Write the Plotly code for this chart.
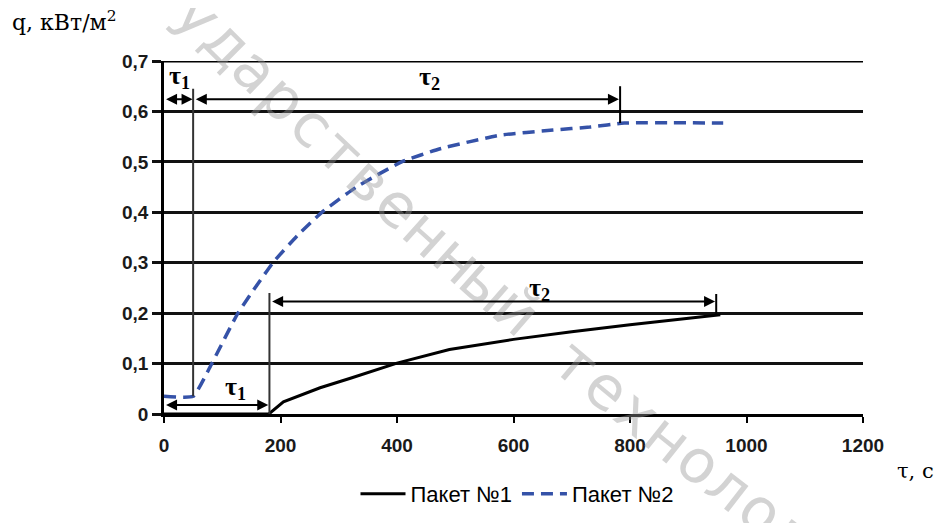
import math
import plotly.graph_objects as go

# Series data
x_p1 = [0, 180, 205, 268, 320, 400, 490, 600, 700, 800, 955]
y_p1 = [0, 0, 0.024, 0.052, 0.071, 0.101, 0.128, 0.148, 0.163, 0.177, 0.197]

x_p2 = [0, 50, 82, 127, 187, 230, 271, 330, 408, 474, 577, 668, 731, 790, 960]
y_p2 = [0.035, 0.035, 0.1, 0.2, 0.3, 0.355, 0.4, 0.45, 0.5, 0.526, 0.553, 0.563, 0.569, 0.577, 0.577]

y_ticks = [0, 0.1, 0.2, 0.3, 0.4, 0.5, 0.6, 0.7]
y_ticktext = ["0", "0,1", "0,2", "0,3", "0,4", "0,5", "0,6", "0,7"]
x_ticks = [0, 200, 400, 600, 800, 1000, 1200]
x_ticktext = ["0", "200", "400", "600", "800", "1000", "1200"]

names = ["Пакет №1", "Пакет №2"]
watermark = "ударственный технолог"

# page has an 8px body margin -> figure placed at (8, 8)
OFF = 8
W, H = 936, 515
L, R, T, B = 156, 81, 53, 109
PW, PH = W - L - R, H - T - B


def px2paper(X, Y):
    fx, fy = X - OFF, Y - OFF
    return (fx - L) / PW, 1 - (fy - T) / PH


fig = go.Figure()
fig.add_trace(go.Scatter(x=x_p1, y=y_p1, mode="lines", name=names[0],
                         line=dict(color="black", width=3)))
fig.add_trace(go.Scatter(x=x_p2, y=y_p2, mode="lines", name=names[1],
                         line=dict(color="#3552A8", width=3.5, dash="12px,7px",
                                   shape="spline", smoothing=0.4)))

tick_font = dict(family="Liberation Sans, Arial", size=19, color="#1a1a1a", weight="bold")

fig.update_layout(
    width=W, height=H,
    margin=dict(l=L, r=R, t=T, b=B, autoexpand=False),
    plot_bgcolor="white", paper_bgcolor="white",
    showlegend=True,
    legend=dict(orientation="h", xref="container", yref="container",
                x=(517 - OFF) / W, xanchor="center", y=1 - (494 - OFF) / H, yanchor="middle",
                font=dict(family="Liberation Sans, Arial", size=22, color="black"),
                itemwidth=45, bgcolor="rgba(0,0,0,0)"),
    xaxis=dict(range=[0, 1200], tickvals=x_ticks, ticktext=x_ticktext, showgrid=False,
               zeroline=False, showline=True, linecolor="black", linewidth=3,
               ticks="outside", ticklen=6, tickwidth=2, tickcolor="black",
               ticklabelstandoff=6, tickfont=tick_font, fixedrange=True),
    yaxis=dict(range=[0, 0.7], tickvals=y_ticks, ticktext=y_ticktext, showgrid=True,
               gridcolor="#111", gridwidth=2.5, zeroline=False, showline=True,
               linecolor="black", linewidth=2.5, ticks="outside", ticklen=9, tickwidth=2.5,
               tickcolor="#111", tickfont=tick_font, fixedrange=True),
)

shapes = [
    dict(type="line", xref="x", yref="y", x0=0, x1=1200, y0=0.7, y1=0.7,
         line=dict(color="black", width=3)),
    dict(type="line", xref="x", yref="y", x0=50, x1=50, y0=0.035, y1=0.645,
         line=dict(color="#333", width=2)),
    dict(type="line", xref="x", yref="y", x0=783, x1=783, y0=0.577, y1=0.65,
         line=dict(color="black", width=2)),
    dict(type="line", xref="x", yref="y", x0=181, x1=181, y0=0, y1=0.24,
         line=dict(color="#333", width=2)),
    dict(type="line", xref="x", yref="y", x0=948, x1=948, y0=0.197, y1=0.238,
         line=dict(color="black", width=2)),
]
fig.update_layout(shapes=shapes)


def darrow(x0, x1, y):
    return dict(x=x1, y=y, ax=x0, ay=y, xref="x", yref="y", axref="x", ayref="y",
                showarrow=True, arrowhead=2, startarrowhead=2, arrowside="end+start",
                arrowsize=1.1, arrowwidth=2, arrowcolor="black", text="")


anns = []

# watermark: characters placed along a gently curved path (page pixels)
P0, P1, P2 = (175.0, -10.0), (480.0, 300.0), (800.0, 540.0)


def bez(t):
    a, b, c = (1 - t) ** 2, 2 * t * (1 - t), t * t
    return (a * P0[0] + b * P1[0] + c * P2[0], a * P0[1] + b * P1[1] + c * P2[1])


N = 2000
pts = [bez(i / N) for i in range(N + 1)]
cum = [0.0]
for i in range(1, N + 1):
    cum.append(cum[-1] + math.dist(pts[i], pts[i - 1]))
i_u = min(range(N + 1), key=lambda i: math.dist(pts[i], (197, 17)))
s_u = cum[i_u]
step = 39.5
for k, ch in enumerate(watermark):
    if ch == " ":
        continue
    s = s_u + k * step
    t = min(range(N + 1), key=lambda i: abs(cum[i] - s)) / N
    X, Y = bez(t)
    dx = 2 * (1 - t) * (P1[0] - P0[0]) + 2 * t * (P2[0] - P1[0])
    dy = 2 * (1 - t) * (P1[1] - P0[1]) + 2 * t * (P2[1] - P1[1])
    ang = math.degrees(math.atan2(dy, dx))
    if Y > 560:
        continue
    px, py = px2paper(X, Y)
    anns.append(dict(x=px, y=py, xref="paper", yref="paper", text=ch, showarrow=False,
                     textangle=ang, xanchor="center", yanchor="middle",
                     font=dict(family="DejaVu Sans", size=60,
                               color="rgba(150,150,150,0.42)")))

anns += [
    darrow(1, 49, 0.624),
    darrow(52, 781, 0.624),
    darrow(1, 179, 0.018),
    darrow(183, 946, 0.223),
]
tau_font = dict(family="Liberation Serif, Times New Roman", size=26, color="black")
for xx, yy, t in [(27, 0.668, "τ<sub>1</sub>"), (455, 0.666, "τ<sub>2</sub>"),
                  (122, 0.052, "τ<sub>1</sub>"), (645, 0.248, "τ<sub>2</sub>")]:
    anns.append(dict(x=xx, y=yy, xref="x", yref="y", text="<b>" + t + "</b>", showarrow=False,
                     font=tau_font))

qx, qy = px2paper(10, 21)
anns.append(dict(x=qx, y=qy, xref="paper", yref="paper", xanchor="left", yanchor="middle",
                 text="q, кВт/м<sup>2</sup>", showarrow=False,
                 font=dict(family="DejaVu Serif, Liberation Serif", size=22, color="black")))
tx, ty = px2paper(936, 471)
anns.append(dict(x=tx, y=ty, xref="paper", yref="paper", xanchor="right", yanchor="middle",
                 text="τ, с", showarrow=False,
                 font=dict(family="DejaVu Serif, Liberation Serif", size=21, color="black")))

fig.update_layout(annotations=anns)
fig.write_html("out.html")
